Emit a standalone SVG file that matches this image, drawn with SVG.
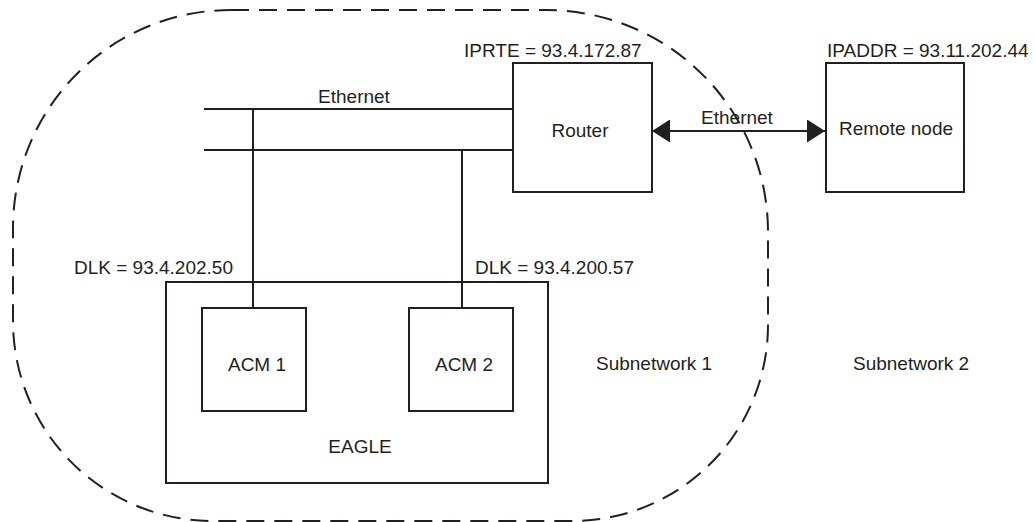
<svg xmlns="http://www.w3.org/2000/svg" width="1035" height="522" viewBox="0 0 1035 522">
<style>
  .ln{stroke:#231f20;stroke-width:2;fill:none}
  .box{stroke:#231f20;stroke-width:2;fill:#fff}
  .bound{stroke:#231f20;stroke-width:2;fill:none;stroke-dasharray:18 10}
  text{font-family:"Liberation Sans",Arial,sans-serif;font-size:19px;fill:#231f20}
  .c{text-anchor:middle}
</style>
<defs>
  <marker id="ah" viewBox="0 0 18 23" refX="18" refY="11.5" markerWidth="18" markerHeight="23" markerUnits="userSpaceOnUse" orient="auto-start-reverse">
    <path d="M0,0 L18,11.5 L0,23 Z" fill="#231f20"/>
  </marker>
</defs>
<rect width="1035" height="522" fill="#fff"/>
<g id="eagle">
  <rect class="box" x="166" y="282" width="382" height="201"/>
  <text class="c" x="360" y="453">EAGLE</text>
</g>
<g id="connectors">
  <line class="ln" x1="204" y1="109" x2="513" y2="109"/>
  <line class="ln" x1="204" y1="150" x2="513" y2="150"/>
  <line class="ln" x1="253" y1="109" x2="253" y2="308"/>
  <line class="ln" x1="462" y1="150" x2="462" y2="308"/>
  <line class="ln" x1="652" y1="131" x2="825" y2="131" marker-start="url(#ah)" marker-end="url(#ah)"/>
  <text class="c" x="354" y="103">Ethernet</text>
  <text class="c" x="737" y="124">Ethernet</text>
</g>
<g id="acm1">
  <rect class="box" x="202" y="308" width="104" height="103"/>
  <text class="c" x="257" y="371">ACM 1</text>
  <text x="74" y="274">DLK = 93.4.202.50</text>
</g>
<g id="acm2">
  <rect class="box" x="409" y="308" width="104" height="103"/>
  <text class="c" x="464" y="371">ACM 2</text>
  <text x="475" y="274">DLK = 93.4.200.57</text>
</g>
<g id="router">
  <rect class="box" x="513" y="63" width="139" height="129"/>
  <text class="c" x="580" y="137">Router</text>
  <text x="464" y="57">IPRTE = 93.4.172.87</text>
</g>
<g id="remote">
  <rect class="box" x="826" y="63" width="138" height="129"/>
  <text class="c" x="896" y="135">Remote node</text>
  <text x="827" y="57">IPADDR = 93.11.202.44</text>
</g>
<g id="subnetwork1">
  <path class="bound" d="M231,10 L546,10 A222,222 0 0 1 768,232 L768,325 A196,196 0 0 1 572,521 L213,521 A200,200 0 0 1 13,321 L13,228 A218,218 0 0 1 231,10 Z"/>
  <text x="596" y="370">Subnetwork 1</text>
</g>
<g id="subnetwork2">
  <text x="853" y="370">Subnetwork 2</text>
</g>
</svg>
